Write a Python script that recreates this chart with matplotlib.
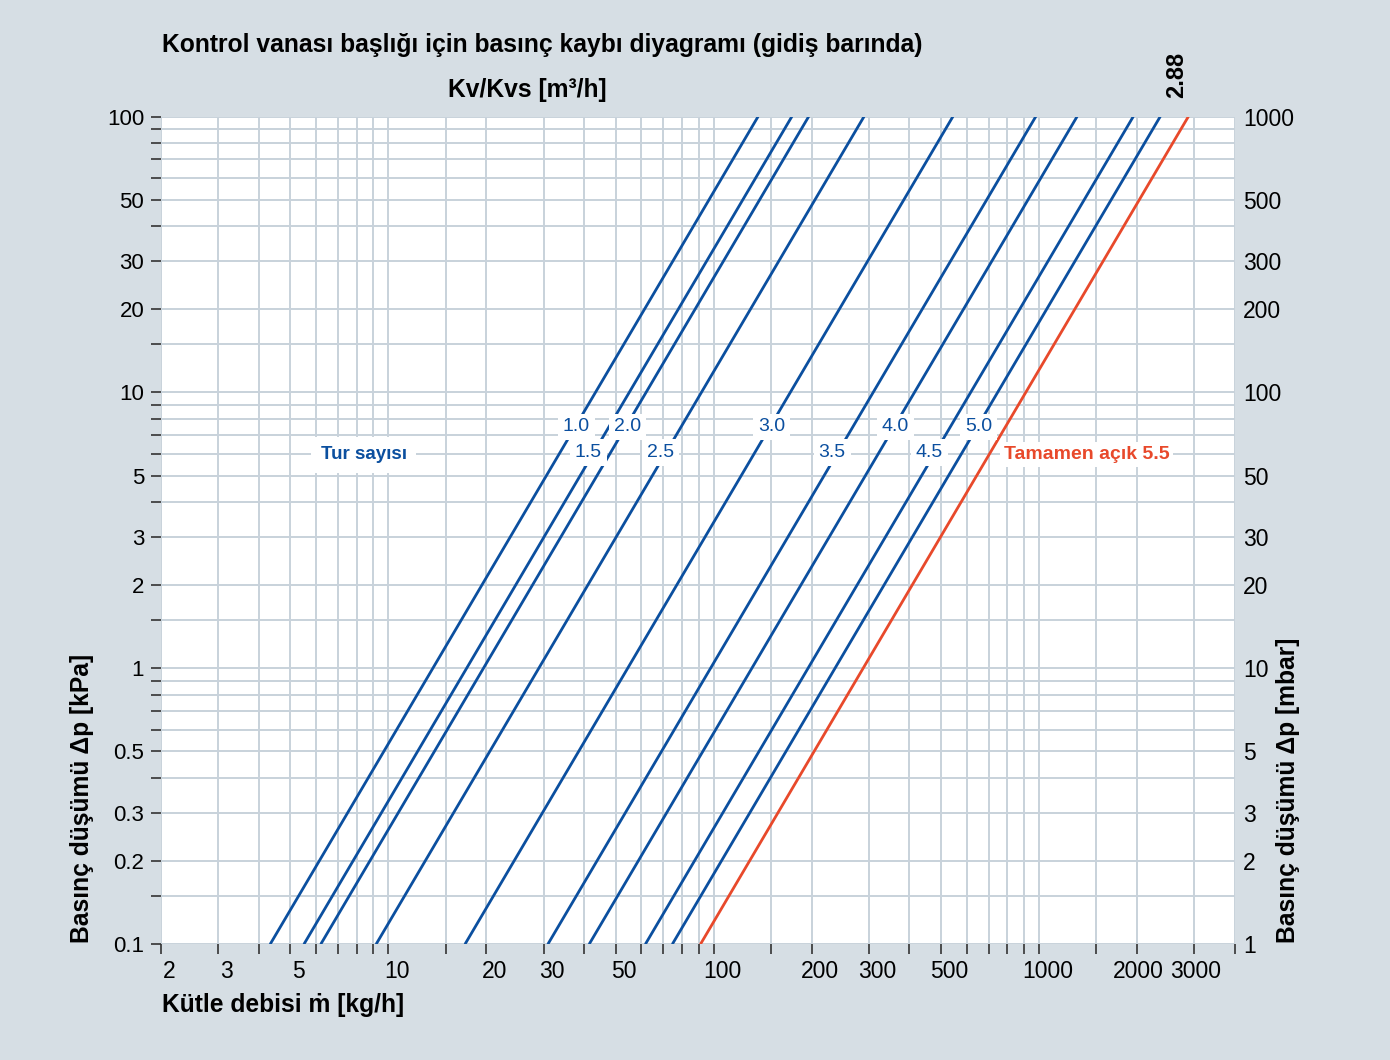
import numpy as np
import matplotlib
matplotlib.use('Agg')
import matplotlib.pyplot as plt
from matplotlib.transforms import blended_transform_factory, offset_copy

plt.rcParams['font.family'] = ['Liberation Sans', 'DejaVu Sans']

# data
turns = ['1.0', '1.5', '2.0', '2.5', '3.0', '3.5', '4.0', '4.5', '5.0']
kv = [0.137, 0.174, 0.196, 0.290, 0.544, 0.978, 1.31, 1.95, 2.36]
kvs = 2.88
full_open_label = 'Tamamen açık 5.5'

xticks = [2, 3, 4, 5, 6, 7, 8, 9, 10, 15, 20, 30, 40, 50, 60, 70, 80, 90, 100,
          150, 200, 300, 400, 500, 600, 700, 800, 900, 1000, 1500, 2000, 3000, 4000]
xlabels = [2, 3, 5, 10, 20, 30, 50, 100, 200, 300, 500, 1000, 2000, 3000]
yticks = [0.1, 0.15, 0.2, 0.3, 0.4, 0.5, 0.6, 0.7, 0.8, 0.9, 1, 1.5, 2, 3, 4, 5, 6, 7, 8, 9,
          10, 15, 20, 30, 40, 50, 60, 70, 80, 90, 100]
ylabels_kpa = ['0.1', '0.2', '0.3', '0.5', '1', '2', '3', '5', '10', '20', '30', '50', '100']
ylabels_mbar = ['1', '2', '3', '5', '10', '20', '30', '50', '100', '200', '300', '500', '1000']

bg = '#d6dee4'
grid_c = '#c8d2db'
blue = '#0b4f9f'
red = '#e8492b'

fig = plt.figure(figsize=(13.9, 10.6), dpi=100, facecolor=bg)
ax = fig.add_axes([0.11576, 0.10915, 0.88835 - 0.11576, 0.89009 - 0.10915])
ax.set_facecolor('white')
ax.set_xscale('log')
ax.set_yscale('log')
ax.set_xlim(2, 4000)
ax.set_ylim(0.1, 100)

ax.set_xticks(xticks)
ax.set_xticklabels([''] * len(xticks))
ax.xaxis.set_minor_locator(matplotlib.ticker.NullLocator())
ylab_vals = [float(s) for s in ylabels_kpa]
ax.set_yticks(yticks)
ax.set_yticklabels([s if t in ylab_vals else '' for s, t in
                    zip([('%g' % t) for t in yticks], yticks)])
ax.yaxis.set_minor_locator(matplotlib.ticker.NullLocator())
ax.tick_params(axis='both', direction='out', length=7, width=1.2, color='#333333',
               labelsize=16, pad=5)
ax.grid(True, color=grid_c, linewidth=1.4)
ax.set_axisbelow(True)
for s in ax.spines.values():
    s.set_visible(False)

# x tick labels drawn by hand so they can sit a bit right of the tick
trans = blended_transform_factory(ax.transData, ax.transAxes)
for v in xlabels:
    dx = 6 if v < 2000 else 1
    ax.text(v, 0, str(v), transform=offset_copy(trans, fig, x=dx, y=-11, units='points'),
            ha='center', va='top', fontsize=16.5)

# right axis in mbar
ax2 = ax.twinx()
ax2.set_yscale('log')
ax2.set_ylim(1, 1000)
ax2.set_yticks([float(s) for s in ylabels_mbar])
ax2.set_yticklabels(ylabels_mbar)
ax2.yaxis.set_minor_locator(matplotlib.ticker.NullLocator())
ax2.tick_params(axis='y', length=0, labelsize=16.5, pad=6)
for s in ax2.spines.values():
    s.set_visible(False)

# characteristic lines: dp[kPa] = 100 * (m / (1000 * Kv))^2
dp = np.array([0.1, 100.0])
for t, k in zip(turns, kv):
    m = 1000 * k * np.sqrt(dp / 100)
    ax.plot(m, dp, color=blue, linewidth=2.0, solid_capstyle='butt', zorder=3)
m = 1000 * kvs * np.sqrt(dp / 100)
ax.plot(m, dp, color=red, linewidth=2.0, solid_capstyle='butt', zorder=3)

# turn labels on the lines, whole turns on the upper row
for i, (t, k) in enumerate(zip(turns, kv)):
    lab_dp = 7.5 if i % 2 == 0 else 6.05
    shift = 1 if i % 2 == 0 else -4
    xm = 1000 * k * np.sqrt(lab_dp / 100)
    ax.text(xm, lab_dp, t, color=blue, fontsize=14, ha='center', va='center', zorder=4,
            transform=offset_copy(ax.transData, fig, x=shift, y=0, units='points'),
            bbox=dict(boxstyle='square,pad=0.25', fc='white', ec='none'))

ax.text(8.4, 5.95, 'Tur sayısı', color=blue, fontsize=13.5, fontweight='bold',
        ha='center', va='center', zorder=4,
        bbox=dict(boxstyle='square,pad=0.5', fc='white', ec='none'))
ax.text(780, 5.95, full_open_label, color=red, fontsize=14, fontweight='bold',
        ha='left', va='center', zorder=4,
        bbox=dict(boxstyle='square,pad=0.2', fc='white', ec='none'))

# Kvs value above the top end of the red line
ax.text(1000 * kvs, 1, '%.2f' % kvs, transform=offset_copy(trans, fig, x=0, y=13, units='points'),
        rotation=90, ha='right', va='bottom', fontsize=17, fontweight='bold')

bold_size = 17.7
fig.text(162 / 1390, 1 - 45 / 1060, 'Kontrol vanası başlığı için basınç kaybı diyagramı (gidiş barında)',
         fontsize=bold_size, fontweight='bold', ha='left', va='center')
fig.text(527 / 1390, 1 - 90 / 1060, 'Kv/Kvs [m³/h]', fontsize=bold_size, fontweight='bold',
         ha='center', va='center')
fig.text(162 / 1390, 1 - 1005 / 1060, 'Kütle debisi ṁ [kg/h]', fontsize=bold_size, fontweight='bold',
         ha='left', va='center')
fig.text(82 / 1390, 1 - 943 / 1060, 'Basınç düşümü Δp [kPa]', fontsize=bold_size, fontweight='bold',
         rotation=90, ha='center', va='bottom')
fig.text(1288 / 1390, 1 - 943 / 1060, 'Basınç düşümü Δp [mbar]', fontsize=bold_size, fontweight='bold',
         rotation=90, ha='center', va='bottom')

fig.savefig('out.png', dpi=100, facecolor=bg)
